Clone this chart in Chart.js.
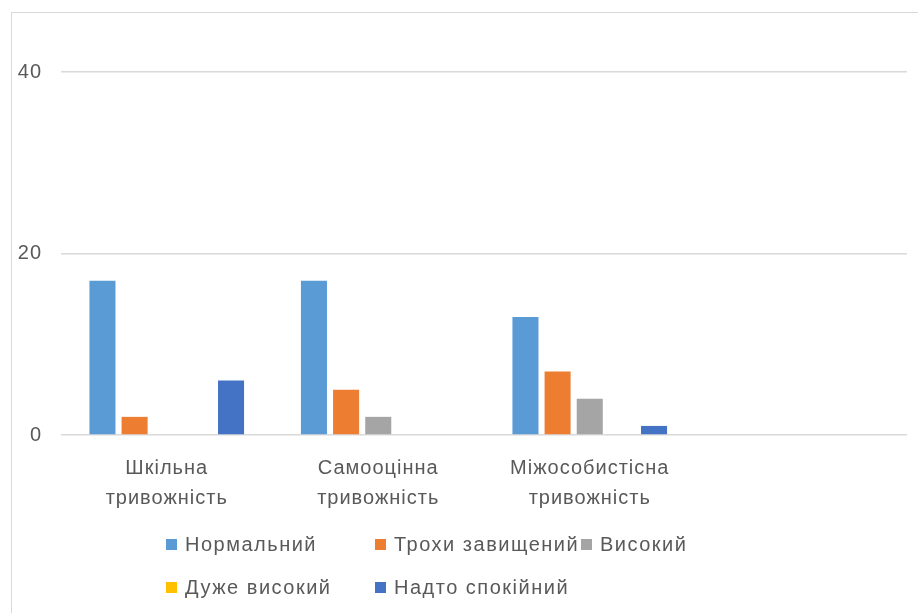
<!DOCTYPE html>
<html>
<head>
<meta charset="utf-8">
<script src="https://cdn.jsdelivr.net/npm/chart.js@4"></script>
<style>
  html, body { margin: 0; padding: 0; background: #fff; overflow: hidden; }
  #frame {
    position: absolute; left: 11px; top: 12px;
    width: 1000px; height: 700px;
    border: 1px solid #d9d9d9;
  }
  #wrap { position: absolute; left: 0; top: 0; width: 906px; height: 600px; }
</style>
</head>
<body>
<div id="frame"><div id="wrap"><canvas id="chart"></canvas></div></div>
<script>
const categories = [
  ["Шкільна", "тривожність"],
  ["Самооцінна", "тривожність"],
  ["Міжособистісна", "тривожність"],
  ""
];
const seriesNames = ["Нормальний", "Трохи завищений", "Високий", "Дуже високий", "Надто спокійний"];
const normal = [17, 17, 13];
const slightlyHigh = [2, 5, 7];
const high = [0, 2, 4];
const veryHigh = [0, 0, 0];
const tooCalm = [6, 0, 1];
const yTicks = [0, 20, 40];
const colors = ["#5B9BD5", "#ED7D31", "#A5A5A5", "#FFC000", "#4472C4"];

const FONT = '"Liberation Sans", Arial, sans-serif';
const textColor = "#595959";

// legend drawn in a fixed grid like the Excel one
const legendCols = [154, 363, 569];
const legendRows = [532, 575];

const gridLegend = {
  id: "gridLegend",
  beforeDraw(chart) {
    // Excel text looks loosely spaced
    chart.ctx.letterSpacing = "1px";
  },
  afterDraw(chart) {
    const ctx = chart.ctx;
    ctx.save();
    ctx.font = "20px " + FONT;
    ctx.letterSpacing = "1.5px";
    ctx.textBaseline = "middle";
    chart.data.datasets.forEach((ds, i) => {
      const x = legendCols[i % 3];
      const y = legendRows[Math.floor(i / 3)];
      ctx.fillStyle = ds.backgroundColor;
      ctx.fillRect(x, y - 6, 11, 11);
      ctx.fillStyle = textColor;
      ctx.fillText(ds.label, x + 19, y);
    });
    ctx.restore();
  }
};

const allSeries = [normal, slightlyHigh, high, veryHigh, tooCalm];

new Chart(document.getElementById("chart"), {
  type: "bar",
  data: {
    labels: categories,
    datasets: allSeries.map((d, i) => ({
      label: seriesNames[i],
      data: d,
      backgroundColor: colors[i],
      borderWidth: 0,
      barPercentage: 0.81,
      categoryPercentage: 0.76
    }))
  },
  options: {
    responsive: true,
    maintainAspectRatio: false,
    animation: false,
    layout: { padding: { top: 0, right: 11, bottom: 98, left: 0 } },
    plugins: {
      legend: { display: false },
      tooltip: { enabled: false }
    },
    scales: {
      x: {
        grid: { display: false },
        border: { display: false },
        ticks: {
          color: textColor,
          font: { family: FONT, size: 20, lineHeight: 1.5 },
          maxRotation: 0,
          autoSkip: false,
          padding: 10
        },
        afterFit(scale) { scale.height = 80; }
      },
      y: {
        min: 0,
        max: 43.1,
        afterBuildTicks(scale) { scale.ticks = yTicks.map(v => ({ value: v })); },
        grid: { color: "#d9d9d9", lineWidth: 1.5, drawTicks: false },
        border: { display: false },
        ticks: {
          color: textColor,
          font: { family: FONT, size: 20 },
          padding: 19
        },
        afterFit(scale) { scale.width = 49; }
      }
    }
  },
  plugins: [gridLegend]
});
</script>
</body>
</html>
